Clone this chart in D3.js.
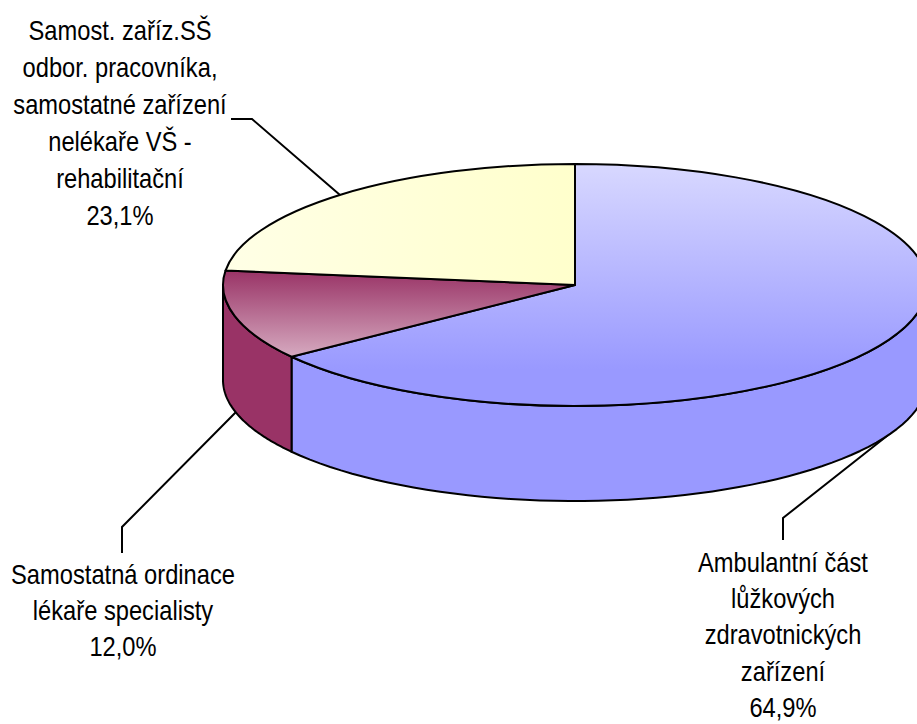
<!DOCTYPE html>
<html>
<head>
<meta charset="utf-8">
<script src="https://cdn.jsdelivr.net/npm/d3@7"></script>
<style>
  html, body { margin: 0; background: #fff; overflow: hidden; }
  svg { display: block; }
  text { font-family: "Liberation Sans", Arial, sans-serif; font-size: 27px; fill: #000; }
</style>
</head>
<body>
<div id="chart"></div>
<script>
const categories = ["Ambulantní část lůžkových zdravotnických zařízení", "Samostatná ordinace lékaře specialisty", "Samost. zaříz.SŠ odbor. pracovníka, samostatné zařízení nelékaře VŠ - rehabilitační"];
const shares = [64.9, 12.0, 23.1];
const shareLabels = ["64,9%", "12,0%", "23,1%"];
const labelLines = [
  ["Ambulantní část", "lůžkových", "zdravotnických", "zařízení"],
  ["Samostatná ordinace", "lékaře specialisty"],
  ["Samost. zaříz.SŠ", "odbor. pracovníka,", "samostatné zařízení", "nelékaře VŠ -", "rehabilitační"]
];
const sideColors = ["#9999ff", "#993366", null];

const width = 917, height = 724;
const cx = 575, cy = 285, rx = 352, ry = 121, depth = 95;

const svg = d3.select("#chart").append("svg")
  .attr("width", width)
  .attr("height", height)
  .attr("viewBox", `0 0 ${width} ${height}`);

// Gradients for the top faces
const defs = svg.append("defs");
function addGradient(id, stops, horizontal) {
  const g = defs.append("linearGradient").attr("id", id)
    .attr("x1", 0).attr("y1", 0)
    .attr("x2", horizontal ? 1 : 0).attr("y2", horizontal ? 0 : 1);
  stops.forEach(s => g.append("stop").attr("offset", s[0]).attr("stop-color", s[1]));
}
addGradient("top0", [[0, "#d8d8ff"], [0.85, "#9999ff"], [1, "#9999ff"]]);
addGradient("top1", [[0, "#993366"], [1, "#d6aac0"]]);
addGradient("top2", [[0, "#ffffe6"], [1, "#ffffcc"]], true);

const pie = d3.pie().sort(null).value(d => d);
const arcs = pie(shares);

const px = a => cx + rx * Math.sin(a);
const py = a => cy - ry * Math.cos(a);

// Leader lines go underneath the pie
const leaders = [
  [[783, 540], [783, 518], [892, 432]],
  [[122, 553], [122, 527], [238, 410]],
  [[231, 119], [252, 119], [340, 195]]
];
svg.selectAll("path.leader")
  .data(leaders)
  .join("path")
  .attr("class", "leader")
  .attr("d", d3.line())
  .attr("fill", "none")
  .attr("stroke", "#000")
  .attr("stroke-width", 2);

// Side walls, only the part of the rim facing the viewer
const line = d3.line();
function sidePath(d) {
  const a0 = Math.max(d.startAngle, Math.PI / 2);
  const a1 = Math.min(d.endAngle, Math.PI * 1.5);
  if (a1 <= a0) return null;
  const steps = d3.range(0, 61).map(i => a0 + (a1 - a0) * i / 60);
  const top = steps.map(a => [px(a), py(a)]);
  const bottom = steps.slice().reverse().map(a => [px(a), py(a) + depth]);
  return line(top.concat(bottom)) + "Z";
}
svg.selectAll("path.side")
  .data(arcs.filter(d => sidePath(d)))
  .join("path")
  .attr("class", "side")
  .attr("d", sidePath)
  .attr("fill", d => sideColors[d.index])
  .attr("stroke", "#000")
  .attr("stroke-width", 2)
  .attr("stroke-linejoin", "round");

// Top faces: a circular arc squashed into the ellipse
const arc = d3.arc().innerRadius(0).outerRadius(rx);
svg.selectAll("path.slice")
  .data(arcs)
  .join("path")
  .attr("class", "slice")
  .attr("transform", `translate(${cx},${cy}) scale(1,${ry / rx})`)
  .attr("d", arc)
  .attr("fill", d => `url(#top${d.index})`)
  .attr("stroke", "#000")
  .attr("stroke-width", 2)
  .attr("stroke-linejoin", "round")
  .style("vector-effect", "non-scaling-stroke");

// Labels
const labelPos = [
  { x: 783, y: 572, gap: 36.2 },
  { x: 123, y: 584, gap: 36 },
  { x: 120, y: 40, gap: 37 }
];
const squeeze = 0.878;
labelLines.forEach((lines, i) => {
  const all = lines.concat(shareLabels[i]);
  svg.append("g")
    .attr("transform", `translate(${labelPos[i].x},${labelPos[i].y}) scale(${squeeze},1)`)
    .selectAll("text")
    .data(all)
    .join("text")
    .attr("y", (d, j) => j * labelPos[i].gap)
    .attr("text-anchor", "middle")
    .text(d => d);
});
</script>
</body>
</html>
